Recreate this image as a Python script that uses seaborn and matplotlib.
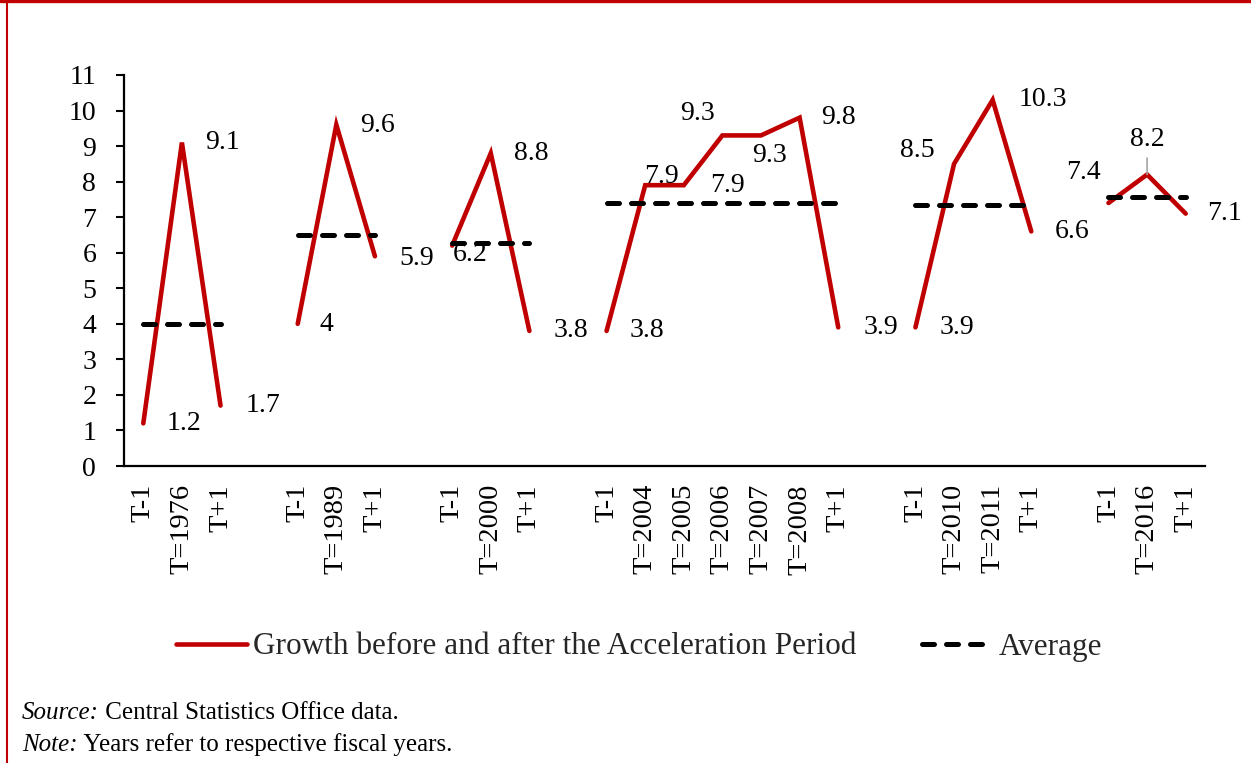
import numpy as np
import pandas as pd
import seaborn as sns
import matplotlib.pyplot as plt
from matplotlib.lines import Line2D

sns.set_theme(style="white")
plt.rcParams['font.family'] = ['Liberation Serif', 'DejaVu Serif']

# Category slots along the x axis; empty strings separate the episodes
categories = ["T-1", "T=1976", "T+1", "",
              "T-1", "T=1989", "T+1", "",
              "T-1", "T=2000", "T+1", "",
              "T-1", "T=2004", "T=2005", "T=2006", "T=2007", "T=2008", "T+1", "",
              "T-1", "T=2010", "T=2011", "T+1", "",
              "T-1", "T=2016", "T+1"]

# GDP growth (%) around each acceleration episode
episode_1976 = [1.2, 9.1, 1.7]
episode_1989 = [4.0, 9.6, 5.9]
episode_2000 = [6.2, 8.8, 3.8]
episode_2004 = [3.8, 7.9, 7.9, 9.3, 9.3, 9.8, 3.9]
episode_2010 = [3.9, 8.5, 10.3, 6.6]
episode_2016 = [7.4, 8.2, 7.1]
episodes = [episode_1976, episode_1989, episode_2000,
            episode_2004, episode_2010, episode_2016]

# Average growth over each episode window
averages = [4.0, 6.5, 6.27, 7.41, 7.33, 7.57]

label_texts = [["1.2", "9.1", "1.7"],
               ["4", "9.6", "5.9"],
               ["6.2", "8.8", "3.8"],
               ["3.8", "7.9", "7.9", "9.3", "9.3", "9.8", "3.9"],
               ["3.9", "8.5", "10.3", "6.6"],
               ["7.4", "8.2", "7.1"]]

# Label placement: (horizontal alignment, dx px, dy px upward)
label_place = [[("left", 23, 0), ("left", 23, 0), ("left", 25, 0)],
               [("left", 22, -1), ("left", 24, -1), ("left", 24, -2)],
               [("left", 1, -9), ("left", 23, 0), ("left", 24, 0)],
               [("left", 23, 0), ("left", -1, 9), ("left", 26, 0),
                ("right", -8, 22), ("left", -9, -20), ("left", 22, 0), ("left", 25, 0)],
               [("left", 24, 0), ("right", -19, 13), ("left", 26, 0), ("left", 23, 0)],
               [("right", -8, 30), ("center", 0, 35), ("left", 21, 0)]]

# Slot positions of each episode (groups of non-empty categories)
starts = []
i = 0
while i < len(categories):
    if categories[i] != "" and (i == 0 or categories[i - 1] == ""):
        starts.append(i)
    i += 1

rows, avg_rows = [], []
for k, (s, vals) in enumerate(zip(starts, episodes)):
    for j, v in enumerate(vals):
        rows.append({"episode": k, "pos": s + j, "growth": v})
    avg_rows.append({"episode": k, "pos": s, "avg": averages[k]})
    avg_rows.append({"episode": k, "pos": s + len(vals) - 1, "avg": averages[k]})
df = pd.DataFrame(rows)
avg_df = pd.DataFrame(avg_rows)

RED = "#C00000"
W, H = 1251, 763
fig = plt.figure(figsize=(W / 100, H / 100), dpi=100)
ax = fig.add_axes([124 / W, (H - 466) / H, (1205 - 124) / W, (466 - 75) / H])

sns.lineplot(data=df, x="pos", y="growth", units="episode", estimator=None,
             color=RED, lw=3.3, solid_capstyle="round", solid_joinstyle="miter",
             legend=False, ax=ax)
sns.lineplot(data=avg_df, x="pos", y="avg", units="episode", estimator=None,
             color="black", lw=3.6, linestyle=(0, (2.4, 2.4)),
             dash_capstyle="round", legend=False, ax=ax)

ax.set_xlim(-0.5, len(categories) - 0.5)
ax.set_ylim(0, 11)
ax.set_yticks(range(0, 12))
ax.set_xticks(range(len(categories)))
ax.set_xticklabels(categories, rotation=90, fontsize=20.5)
ax.tick_params(axis="y", labelsize=20, length=6, width=1.5, pad=14,
               direction="out", left=True, colors="black")
ax.tick_params(axis="x", length=0, pad=13, colors="black")
ax.set_xlabel("")
ax.set_ylabel("")
for side in ["top", "right"]:
    ax.spines[side].set_visible(False)
for side in ["left", "bottom"]:
    ax.spines[side].set_color("black")
    ax.spines[side].set_linewidth(1.6)
ax.grid(False)

px = 0.72
for k, (s, vals) in enumerate(zip(starts, episodes)):
    for j, v in enumerate(vals):
        ha, dx, dy = label_place[k][j]
        kw = {}
        if label_texts[k][j] == "8.2":
            kw["arrowprops"] = dict(arrowstyle="-", color="#A6A6A6", lw=1.2,
                                    shrinkA=2, shrinkB=0)
        ax.annotate(label_texts[k][j], xy=(s + j, v), xytext=(dx * px, dy * px),
                    textcoords="offset points", ha=ha, va="center",
                    fontsize=20, color="black", annotation_clip=False, **kw)

handles = [Line2D([], [], color=RED, lw=3.3, solid_capstyle="round"),
           Line2D([], [], color="black", lw=3.6, linestyle=(0, (2.4, 2.4)),
                  dash_capstyle="round")]
fig.legend(handles, ["Growth before and after the Acceleration Period", "Average"],
           loc="center", bbox_to_anchor=(0.511, 1 - 647 / H), ncol=2,
           frameon=False, fontsize=22.5, handlelength=2.25, handletextpad=0.2,
           columnspacing=2.1)

# Footnotes
t1 = fig.text(22 / W, 1 - 713 / H, "Source:", style="italic", fontsize=18,
              va="center", ha="left", color="black")
fig.add_artist(plt.Annotation(" Central Statistics Office data.", xy=(1, 0),
                              xycoords=t1, va="bottom", ha="left", fontsize=18,
                              color="black"))
t2 = fig.text(22 / W, 1 - 745 / H, "Note:", style="italic", fontsize=18,
              va="center", ha="left", color="black")
fig.add_artist(plt.Annotation(" Years refer to respective fiscal years.", xy=(1, 0),
                              xycoords=t2, va="bottom", ha="left", fontsize=18,
                              color="black"))

# Red frame along the top and left edges
fig.add_artist(Line2D([0, 1], [1 - 1.2 / H, 1 - 1.2 / H], transform=fig.transFigure,
                      color=RED, lw=2.4))
fig.add_artist(Line2D([7 / W, 7 / W], [0, 1], transform=fig.transFigure,
                      color=RED, lw=1.5))

fig.savefig("out.png", dpi=100)
